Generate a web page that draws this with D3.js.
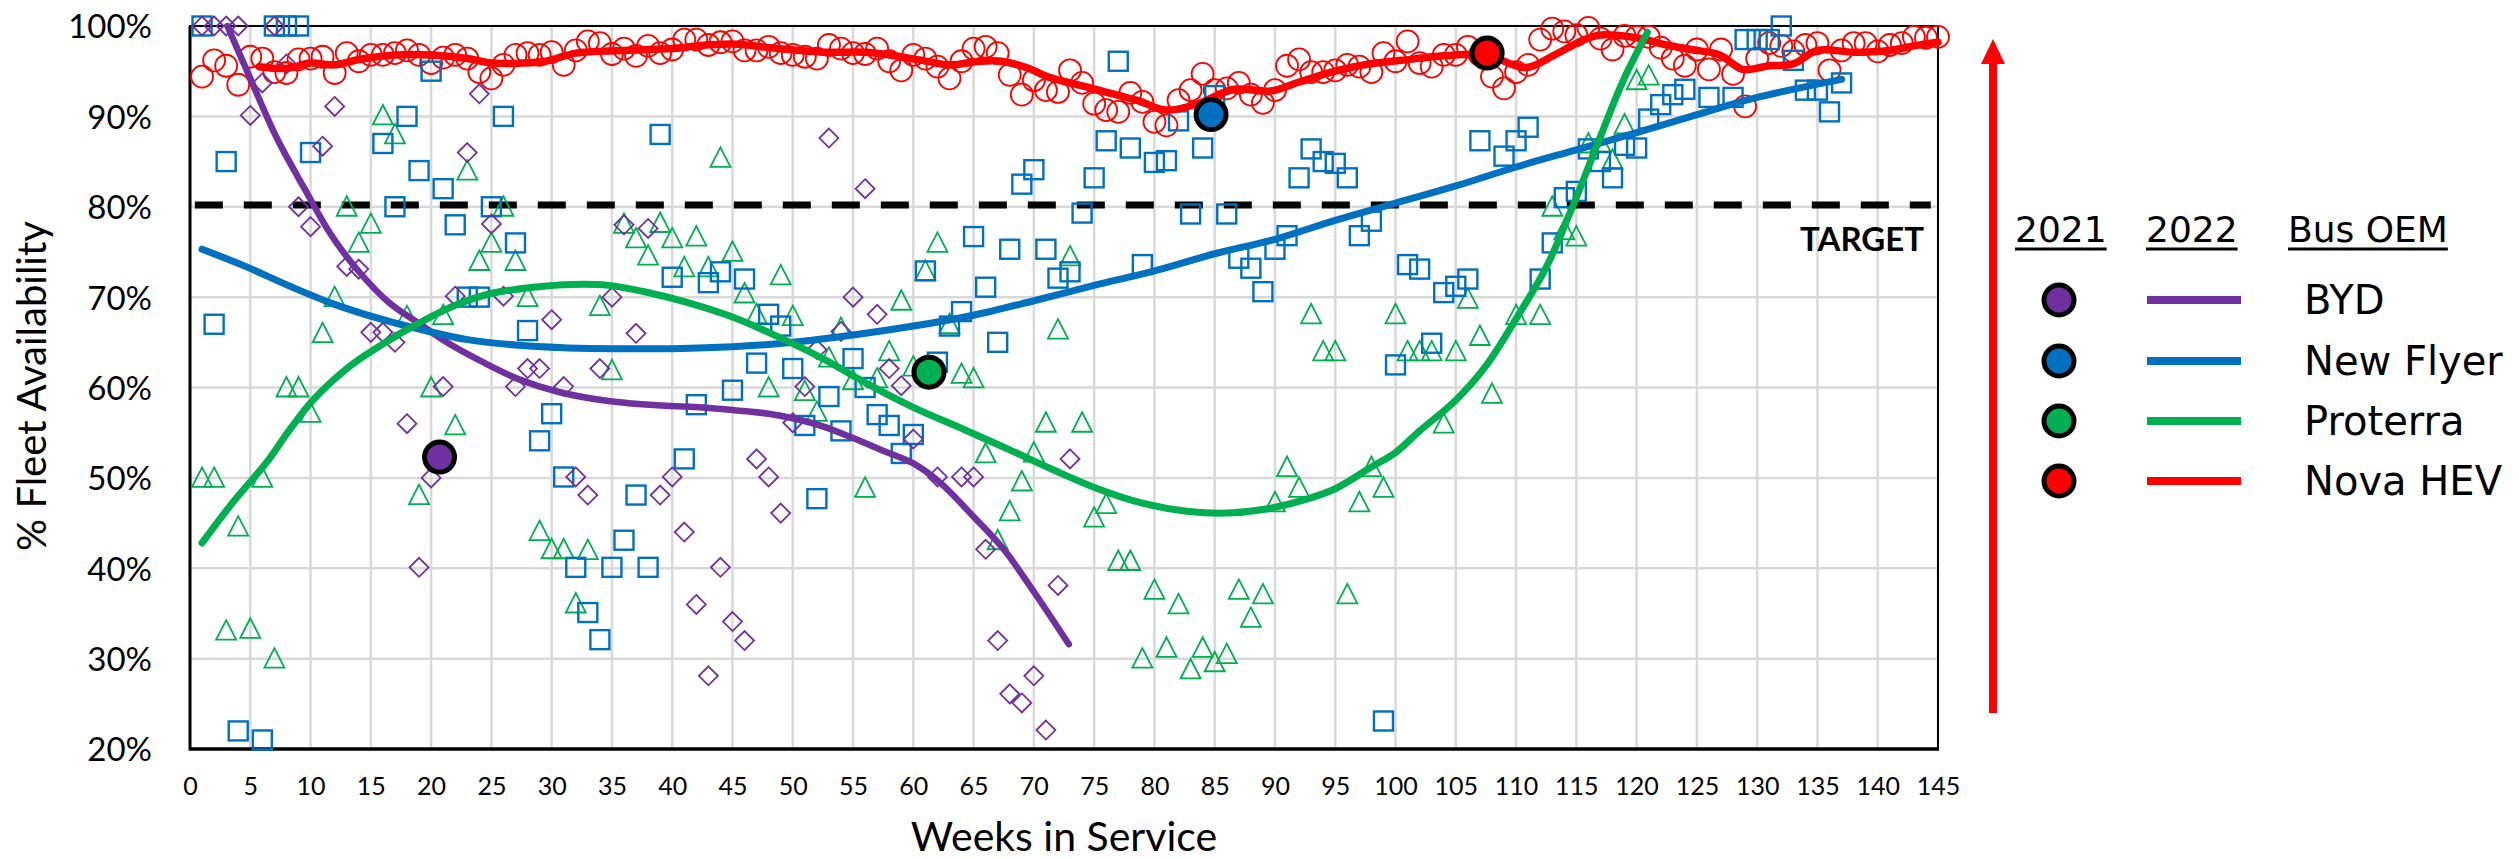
<!DOCTYPE html>
<html><head><meta charset="utf-8">
<script src="https://cdn.jsdelivr.net/npm/d3@7"></script>
<style>
html,body{margin:0;padding:0;background:#fff;}
svg{display:block;}
</style></head><body>
<svg id="chart" width="2519" height="859"></svg>
<script>
// ---------------- DATA ----------------
const xTicks = d3.range(0, 146, 5);
const yTicks = [20, 30, 40, 50, 60, 70, 80, 90, 100];
const targetValue = 80.2;
const oems = ["BYD", "New Flyer", "Proterra", "Nova HEV"];
const oemColors = ["#7030A0", "#0070C0", "#00B050", "#FF0000"];

const bydPoints = [[1,100],[2,100],[3,100],[4,100],[5,90.1],[6,93.7],[7,100],[8,95.8],[9,80],[10,77.8],[11,86.7],[12,91.1],[13,73.4],[14,73.1],[15,66.1],[16,66.1],[17,65],[18,56],[19,40.1],[20,50],[21,60.1],[22,70.1],[23,86],[24,92.5],[25,78.1],[26,70.1],[27,60.1],[28,62.1],[29,62.1],[30,67.5],[31,60.1],[32,50.1],[33,48.1],[34,62.1],[35,70],[36,78],[37,66],[38,77.6],[39,48.1],[40,50.1],[41,44],[42,36],[43,28.1],[44,40.1],[45,34.1],[46,32],[47,52.1],[48,50.1],[49,46.1],[50,56.1],[51,60.1],[52,64.2],[53,87.6],[54,66.2],[55,70],[56,82],[57,68.1],[58,62.1],[59,60.2],[60,54.3],[62,50.1],[64,50.1],[65,50.1],[66,42.1],[67,32],[68,26.1],[69,25.1],[70,28.1],[71,22.1],[72,38.1],[73,52.1]];

const newFlyerPoints = [[1,100],[2,67],[3,85],[4,22],[6,21],[7,100],[8,100],[9,100],[10,86],[16,87],[17,80],[18,90],[19,84],[20,95],[21,82],[22,78],[23,70],[24,70],[25,80],[26,90],[27,76],[28,66.3],[29,54.1],[30,57.1],[31,50.1],[32,40.1],[33,35.1],[34,32.1],[35,40.1],[36,43.1],[37,48.1],[38,40.1],[39,88],[40,72.2],[41,52.1],[42,58.1],[43,71.6],[44,72.8],[45,59.7],[46,72],[47,62.7],[48,68.1],[49,66.8],[50,62.1],[51,55.8],[52,47.7],[53,59],[54,55.2],[55,63.2],[56,60],[57,57],[58,55.8],[59,52.7],[60,54.8],[61,72.9],[62,62.8],[63,66.8],[64,68.4],[65,76.7],[66,71.1],[67,65],[68,75.3],[69,82.5],[70,84.1],[71,75.3],[72,72.1],[73,72.8],[74,79.3],[75,83.2],[76,87.3],[77,96.1],[78,86.5],[79,73.6],[80,84.9],[81,85.1],[82,89.5],[83,79.2],[84,86.5],[85,92.3],[86,79.2],[87,74.3],[88,73.2],[89,70.6],[90,75.3],[91,76.8],[92,83.2],[93,86.4],[94,85],[95,84.8],[96,83.2],[97,76.8],[98,78.4],[99,23.1],[100,62.5],[101,73.6],[102,73.1],[103,64.9],[104,70.5],[105,71.2],[106,72],[107,87.3],[109,85.6],[110,87.3],[111,88.8],[112,72],[113,76],[114,81],[115,81.7],[116,86.4],[117,85],[118,83.2],[119,86.8],[120,86.5],[121,89.7],[122,91.3],[123,92.4],[124,93],[126,92.1],[128,92.1],[129,98.5],[130,98.5],[131,98.5],[132,100],[133,96.2],[134,92.9],[135,92.9],[136,90.5],[137,93.7]];

const proterraPoints = [[1,50],[2,50],[3,33.1],[4,44.6],[5,33.3],[6,50],[7,30],[8,60],[9,60],[10,57.2],[11,66],[12,70],[13,80],[14,76],[15,78.1],[16,90.1],[17,88],[18,67.9],[19,48.1],[20,60],[21,68],[22,55.8],[23,84],[24,74],[25,76],[26,80],[27,74],[28,70],[29,44.1],[30,42.1],[31,42.1],[32,36.1],[33,42],[34,69],[35,61.9],[36,78.1],[37,76.5],[38,74.6],[39,78.2],[40,76.5],[41,73.3],[42,76.7],[43,73.3],[44,85.4],[45,75],[46,70.4],[47,68.1],[48,60],[49,72.4],[50,67.9],[51,59.6],[52,57.3],[53,63.3],[54,66.6],[55,60.8],[56,48.9],[57,61],[58,64],[59,69.6],[60,62.3],[61,72.9],[62,76],[63,67],[64,61.5],[65,61],[66,52.7],[67,43.1],[68,46.3],[69,49.6],[70,52.8],[71,56.1],[72,66.4],[73,74.5],[74,56.1],[75,45.6],[76,47.1],[77,40.8],[78,40.8],[79,30],[80,37.6],[81,31.2],[82,36],[83,28.8],[84,31.2],[85,29.6],[86,30.5],[87,37.6],[88,34.5],[89,37.1],[90,47.3],[91,51.2],[92,48.9],[93,68.1],[94,64],[95,64],[96,37.1],[97,47.3],[98,51.2],[99,48.9],[100,68.1],[101,64],[102,64],[103,64],[104,56],[105,64],[106,69.8],[107,65.7],[108,59.3],[110,68],[112,68],[113,80],[114,77.4],[115,76.7],[116,87],[117,87.1],[118,85.2],[119,89.1],[120,94],[121,94.5]];

const novaWeeks = d3.range(1, 146);
const novaValues = [94.4,96.2,95.6,93.5,96.6,96.4,94.9,94.8,96.3,96.4,96.6,94.8,97.0,96.1,96.8,96.8,97.0,97.3,96.8,95.9,96.5,96.8,96.4,94.9,94.2,95.7,96.8,97.0,96.8,97.1,95.7,97.3,98.3,98.1,96.9,97.5,96.7,97.8,97.0,97.4,98.5,98.5,97.9,98.2,98.3,97.3,97.3,97.7,97.0,96.8,96.6,96.4,97.9,97.5,97.0,96.9,97.5,96.1,95.1,96.8,96.4,95.5,94.2,96.1,97.5,97.7,97.0,94.6,92.4,94.0,92.9,92.7,95.1,93.7,91.4,90.7,90.5,92.6,91.6,89.4,89.0,91.8,92.9,94.7,92.9,93.1,93.7,92.4,91.5,92.9,95.6,96.3,94.9,94.9,95.1,95.7,95.5,94.9,97.0,96.1,98.3,95.9,95.5,96.8,96.8,97.7,96.8,94.4,93.1,94.9,95.7,98.5,99.7,99.4,99.0,99.8,98.6,97.4,98.9,98.8,98.8,97.6,96.4,95.6,97.4,95.2,97.4,94.7,91.1,96.4,98.1,97.8,97.2,97.9,98.1,95.1,97.3,98.1,98.1,97.2,97.9,98.1,98.8,98.7,98.8];

const bydTrend = [[3.1,100],[5,94.2],[7.2,87.6],[9.5,82],[11.7,76.9],[13.9,73.0],[16.5,69.4],[19.1,67.0],[21.3,65.0],[24.3,62.8],[27.3,60.9],[30.6,59.5],[34.7,58.5],[39.1,58.0],[42.5,57.8],[45,57.5],[48,57.1],[50,56.6],[52.5,55.7],[55,54.4],[57.5,53.0],[60,51.6],[62.2,49.5],[65,45.7],[67.5,42.1],[70,37.4],[72.9,31.6]];
const newFlyerTrend = [[1,75.3],[4.6,73.4],[8.3,71.2],[12,69.2],[16,67.5],[19.5,66.3],[23,65.3],[27,64.7],[31,64.4],[35,64.3],[40,64.3],[45,64.5],[50,65.0],[55,65.8],[60,66.8],[65,68.0],[70,69.6],[75,71.3],[80,72.9],[85,74.8],[90,76.4],[95,78.5],[100,80.4],[105,82.3],[110,84.4],[115,86.3],[120,88.2],[125,90.2],[130,92.1],[137,94.1]];
const proterraTrend = [[1,42.8],[3.5,47.2],[6.4,51.8],[8.2,55.2],[10.2,58.6],[13.2,62.3],[16.1,64.9],[19.1,67.2],[22,69.1],[25,70.4],[28.5,71.1],[31.7,71.4],[34.7,71.3],[37.7,70.6],[41,69.5],[45,67.8],[48.8,65.6],[52.5,63.2],[56.2,60.4],[60,57.8],[64.3,55.3],[68,53.1],[71.6,50.9],[75.3,48.8],[79,47.2],[82.7,46.3],[86,46.1],[89,46.5],[92.5,47.6],[95,48.8],[98,51.2],[100,52.8],[102,55.2],[105,58.6],[107.5,62.4],[110,67.6],[112.5,73.3],[114.5,79.4],[116.8,87.1],[118.9,94],[120.9,99.3]];
const novaTrend = [[5.75,95.5],[8,95.3],[10,95.9],[12,95.7],[14,96.3],[17,96.8],[20,96.8],[23,96.4],[25,95.9],[27.5,95.9],[29.5,96.1],[32,97.0],[36,97.3],[40,97.5],[42,97.8],[45,98.0],[48.8,97.5],[52.5,97.1],[56,97.1],[58,96.8],[60.7,96.2],[63,95.7],[65.5,96.1],[67.3,96.1],[69.6,95.3],[71.1,94.4],[74.8,93.1],[78.5,91.8],[81,90.7],[83.6,91.4],[86.6,93.0],[89.6,92.8],[92,93.8],[95,95.0],[97.8,95.8],[100.5,96.2],[104,96.7],[107.5,96.8],[110.8,95.4],[113.2,96.8],[115.5,98.4],[117,99.0],[120,98.7],[122.5,97.9],[124.5,97.4],[126.9,96.8],[128.8,95.2],[131,95.6],[133,95.8],[135,97.3],[138,97.1],[141,97.3],[143,97.8],[145,98.2]];

const points2021 = [[20.7,52.3],[84.7,90.2],[61.3,61.7],[107.6,97.0]];

// ---------------- CHART ----------------
const svg = d3.select("#chart");
const x = d3.scaleLinear().domain([0,145]).range([190,1938]);
const y = d3.scaleLinear().domain([20,100]).range([749,26]);
const [c1, c2, c3, c4] = oemColors;

// grid
const grid = svg.append("g");
grid.selectAll(".vg").data(xTicks).join("line")
  .attr("x1", d => x(d)).attr("x2", d => x(d))
  .attr("y1", y(20)).attr("y2", y(100))
  .attr("stroke", "#d9d9d9").attr("stroke-width", 2.5);
grid.selectAll(".hg").data(yTicks).join("line")
  .attr("x1", x(0)).attr("x2", x(145))
  .attr("y1", d => y(d)).attr("y2", d => y(d))
  .attr("stroke", "#d9d9d9").attr("stroke-width", 2.5);

// axes
const gx = svg.append("g").attr("transform", `translate(0,${y(20)})`)
  .call(d3.axisBottom(x).tickValues(xTicks).tickSize(0).tickFormat(d3.format("d")));
gx.select(".domain").remove();
gx.selectAll("text").attr("y", 46).attr("dy", null)
  .attr("font-family", "Lato").attr("font-size", 25).attr("fill", "#000");

const gy = svg.append("g").attr("transform", `translate(${x(0)},0)`)
  .call(d3.axisLeft(y).tickValues(yTicks).tickSize(0).tickFormat(d => d + "%"));
gy.select(".domain").remove();
gy.selectAll("text").attr("x", -38).attr("dy", "0.36em")
  .attr("font-family", "Lato").attr("font-size", 33).attr("fill", "#000");

// border
svg.append("rect").attr("x", x(0)).attr("y", y(100))
  .attr("width", x(145) - x(0)).attr("height", y(20) - y(100))
  .attr("fill", "none").attr("stroke", "#000").attr("stroke-width", 2);
svg.append("line").attr("x1", x(0)).attr("x2", x(0)).attr("y1", y(100)).attr("y2", y(20) + 1.5)
  .attr("stroke", "#000").attr("stroke-width", 3);
svg.append("line").attr("x1", x(0)).attr("x2", x(145) + 1).attr("y1", y(20)).attr("y2", y(20))
  .attr("stroke", "#000").attr("stroke-width", 3.5);

// axis titles
svg.append("text").attr("x", 1064).attr("y", 851).attr("text-anchor", "middle")
  .attr("font-family", "Lato").attr("font-size", 41).attr("fill", "#000").text("Weeks in Service");
svg.append("text").attr("transform", "translate(46,386) rotate(-90)").attr("text-anchor", "middle")
  .attr("font-family", "Lato").attr("font-size", 40).attr("fill", "#000").text("% Fleet Availability");

// target
svg.append("line").attr("x1", x(0.4)).attr("x2", x(144.4))
  .attr("y1", y(targetValue)).attr("y2", y(targetValue))
  .attr("stroke", "#000").attr("stroke-width", 7).attr("stroke-dasharray", "28,21");

// markers
const gm = svg.append("g");
gm.selectAll(".nova").data(novaWeeks.map((w, i) => [w, novaValues[i]])).join("circle")
  .attr("cx", d => x(d[0])).attr("cy", d => y(d[1])).attr("r", 11)
  .attr("fill", "none").attr("stroke", c4).attr("stroke-width", 1.8);
gm.selectAll(".pro").data(proterraPoints).join("path")
  .attr("transform", d => `translate(${x(d[0])},${y(d[1])})`)
  .attr("d", "M0,-10.5L10,9L-10,9Z")
  .attr("fill", "none").attr("stroke", c3).attr("stroke-width", 1.8);
gm.selectAll(".nf").data(newFlyerPoints).join("rect")
  .attr("x", d => x(d[0]) - 9.5).attr("y", d => y(d[1]) - 9.5)
  .attr("width", 19).attr("height", 19)
  .attr("fill", "none").attr("stroke", c2).attr("stroke-width", 2.4);
gm.selectAll(".byd").data(bydPoints).join("path")
  .attr("transform", d => `translate(${x(d[0])},${y(d[1])})`)
  .attr("d", "M0,-9.5L9.5,0L0,9.5L-9.5,0Z")
  .attr("fill", "none").attr("stroke", c1).attr("stroke-width", 1.8);

// trend lines
const line = d3.line().x(d => x(d[0])).y(d => y(d[1])).curve(d3.curveCatmullRom.alpha(0.5));
[[novaTrend, c4, 7.5], [bydTrend, c1, 6.5], [newFlyerTrend, c2, 7], [proterraTrend, c3, 7]].forEach(([data, col, w]) => {
  svg.append("path").datum(data).attr("d", line)
    .attr("fill", "none").attr("stroke", col).attr("stroke-width", w)
    .attr("stroke-linecap", "round").attr("stroke-linejoin", "round");
});

// 2021 markers
svg.selectAll(".m21").data(points2021).join("circle")
  .attr("cx", d => x(d[0])).attr("cy", d => y(d[1])).attr("r", 15)
  .attr("fill", (d, i) => oemColors[i]).attr("stroke", "#000").attr("stroke-width", 5);

// TARGET label
svg.append("text").attr("x", 1924).attr("y", 251).attr("text-anchor", "end")
  .attr("font-family", "Lato").attr("font-weight", "bold").attr("font-size", 33).attr("fill", "#000").text("TARGET");

// red arrow
svg.append("rect").attr("x", 1989).attr("y", 60).attr("width", 8).attr("height", 653).attr("fill", "#FF0000");
svg.append("path").attr("d", "M1981,64L2005,64L1993,39Z").attr("fill", "#FF0000");

// legend
const headers = [["2021", 2015], ["2022", 2146], ["Bus OEM", 2288]];
headers.forEach(([t, hx]) => {
  const tx = svg.append("text").attr("x", hx).attr("y", 242)
    .attr("font-family", "DejaVu Sans").attr("font-size", 36).attr("fill", "#000").text(t);
  const len = tx.node().getComputedTextLength();
  svg.append("line").attr("x1", hx).attr("x2", hx + len).attr("y1", 249).attr("y2", 249)
    .attr("stroke", "#000").attr("stroke-width", 3);
});
const rowY = [300, 361, 421, 481];
oems.forEach((name, i) => {
  const ry = rowY[i];
  svg.append("circle").attr("cx", 2059).attr("cy", ry).attr("r", 15)
    .attr("fill", oemColors[i]).attr("stroke", "#000").attr("stroke-width", 5);
  svg.append("line").attr("x1", 2147).attr("x2", 2241).attr("y1", ry).attr("y2", ry)
    .attr("stroke", oemColors[i]).attr("stroke-width", 8);
  svg.append("text").attr("x", 2304).attr("y", ry).attr("dy", "0.36em")
    .attr("font-family", "DejaVu Sans").attr("font-size", 40).attr("fill", "#000").text(name);
});
</script></body></html>
